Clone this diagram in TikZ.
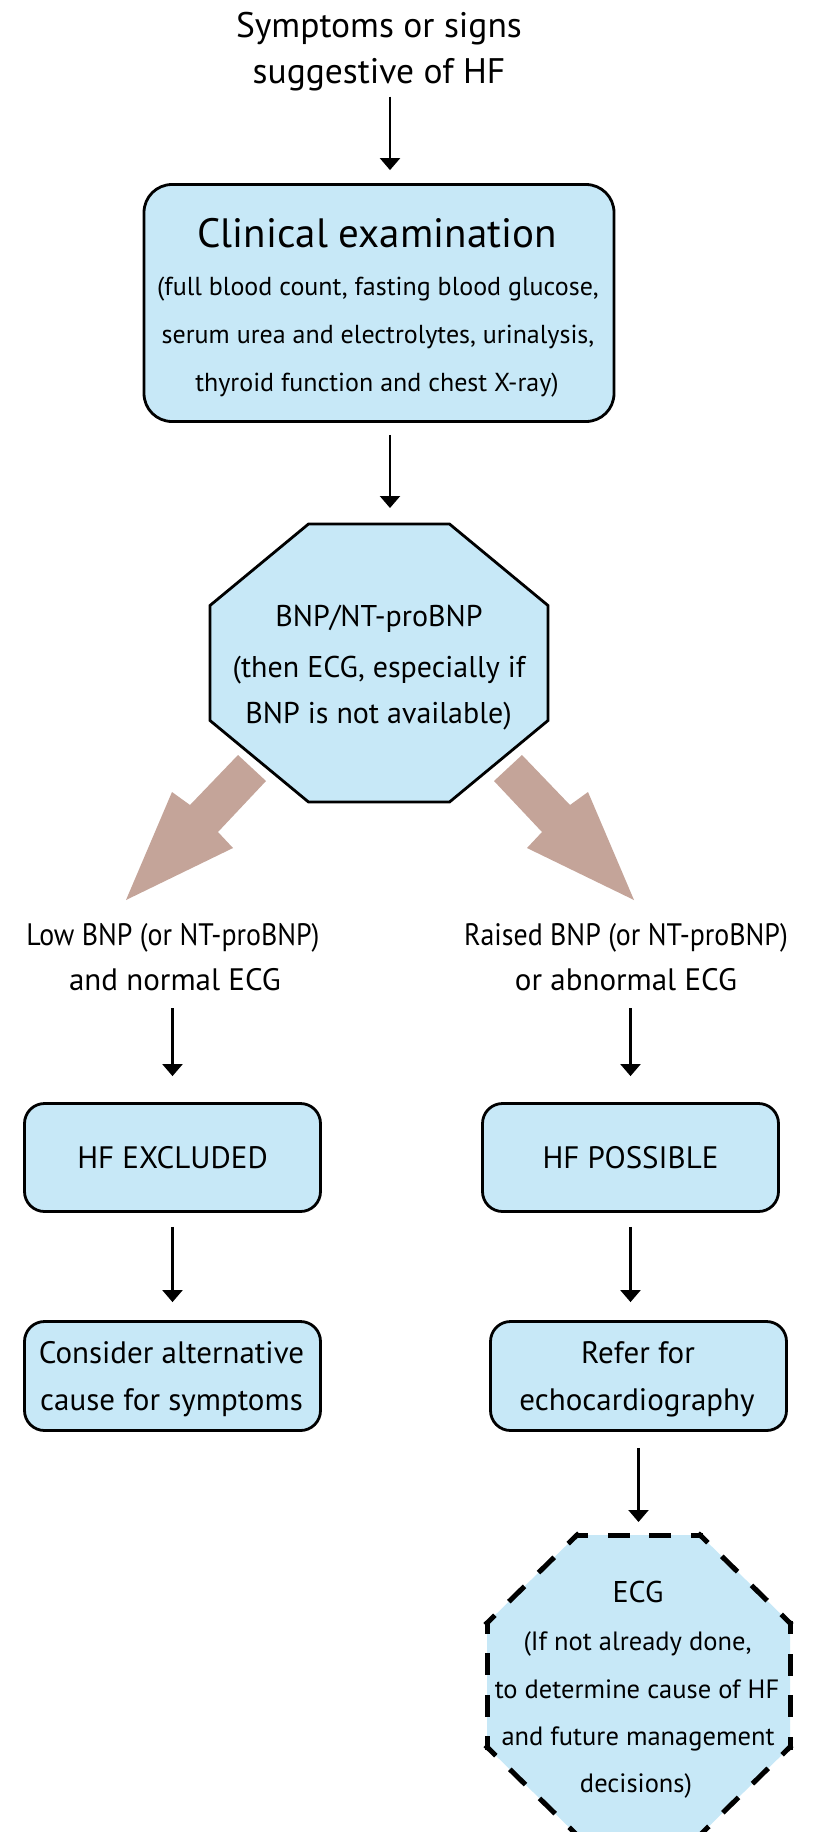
\documentclass[tikz,border=0pt]{standalone}
\usepackage{fontspec}
\setmainfont{PT Sans}
\usetikzlibrary{arrows.meta,calc}
\definecolor{boxblue}{RGB}{199,232,247}
\definecolor{brownarrow}{RGB}{196,164,153}
\newcommand\fsz[1]{\fontsize{#1}{#1}\selectfont}
\tikzset{
  txt/.style={inner sep=0pt, outer sep=0pt, anchor=base},
  rbox/.style={draw=black, line width=2.8pt, fill=boxblue, rounded corners=20pt, inner sep=0pt},
  arr/.style={line width=2.2pt, -{Triangle[width=20pt,length=12pt]}},
  octline/.style={draw=black, line width=2.8pt, fill=boxblue, line join=miter},
  dashside/.style={draw=black, line width=5pt, dash pattern=on 17pt off 24.5pt, dash phase=8.5pt, line cap=rect},
  bigarrow/.style={fill=brownarrow, draw=none},
  frame/.style={inner sep=0pt, outer sep=0pt},
  branchA/.style={txt, font=\fsz{31}\addfontfeature{FakeStretch=0.9}},
  branchB/.style={txt, font=\fsz{31}}
}
\begin{document}
\begin{tikzpicture}[x=1pt,y=-1pt]
\useasboundingbox (0,0) rectangle (812,1832);
\clip (0,0) rectangle (812,1832);
\fill[white] (0,0) rectangle (812,1832);

% title
\node[txt,font=\fsz{35.5}] (t1) at (379,37) {Symptoms or signs};
\node[txt,font=\fsz{35.5}] (t2) at (379,83) {suggestive of HF};

% clinical examination box
\node[rbox, rounded corners=28pt, minimum width=470pt, minimum height=237pt] (box1) at (379,303) {};
\node[txt,font=\fsz{41}] (c1) at (377,247) {Clinical examination};
\node[txt,font=\fsz{26}] (c2) at (378,295) {(full blood count, fasting blood glucose,};
\node[txt,font=\fsz{26}] (c3) at (378,343) {serum urea and electrolytes, urinalysis,};
\node[txt,font=\fsz{26}] (c4) at (377,391) {thyroid function and chest X-ray)};

\draw[arr, shorten <=6pt, shorten >=13pt] ([xshift=11pt]t2.south) -- ([xshift=11pt]box1.north);

% BNP octagon
\node[frame, minimum width=338pt, minimum height=278pt] (oct1) at (379,663) {};
\path[octline] ($(oct1)+(-70.5,-139)$) -- ($(oct1)+(70.5,-139)$) -- ($(oct1)+(169,-57.5)$) -- ($(oct1)+(169,57.5)$) -- ($(oct1)+(70.5,139)$) -- ($(oct1)+(-70.5,139)$) -- ($(oct1)+(-169,57.5)$) -- ($(oct1)+(-169,-57.5)$) -- cycle;
\node[txt,font=\fsz{30}] (o1) at (379,626) {BNP/NT-proBNP};
\node[txt,font=\fsz{30}] (o2) at (379,677) {(then ECG, especially if};
\node[txt,font=\fsz{30}] (o3) at (378.5,723) {BNP is not available)};

\draw[arr, shorten <=12pt, shorten >=16pt] ([xshift=11pt]box1.south) -- ([xshift=11pt]oct1.north);

% brown branch arrows
\path[bigarrow] (238,755) -- (266,781) -- (218,832) -- (233,848) -- (126,900) -- (172,792) -- (190,805) -- cycle;
\path[bigarrow] (522,755) -- (494,781) -- (542,832) -- (527,848) -- (634,900) -- (588,792) -- (570,805) -- cycle;

% branch labels
\node[branchA] (l1) at (173,945) {Low BNP (or NT-proBNP)};
\node[branchB] (l2) at (175,990) {and normal ECG};
\node[branchA] (r1) at (626,945) {Raised BNP (or NT-proBNP)};
\node[branchB] (r2) at (626,990) {or abnormal ECG};

% outcome boxes
\node[rbox, font=\fsz{31}, minimum width=296pt, minimum height=108pt] (hfx) at (172.5,1157.5) {HF EXCLUDED};
\node[rbox, font=\fsz{31}, minimum width=296pt, minimum height=108pt] (hfp) at (630.5,1157.5) {HF POSSIBLE};

\draw[arr, shorten <=18pt, shorten >=26pt] (hfx.north |- l2.south) -- (hfx.north);
\draw[arr, shorten <=18pt, shorten >=26pt] (hfp.north |- r2.south) -- (hfp.north);

\node[rbox, minimum width=296pt, minimum height=109pt] (cons) at (172.5,1376) {};
\node[txt,font=\fsz{31}] (cons1) at (171.5,1363) {Consider alternative};
\node[txt,font=\fsz{31}] (cons2) at (171.5,1410) {cause for symptoms};

\node[rbox, minimum width=296pt, minimum height=109pt] (refer) at (638.5,1376) {};
\node[txt,font=\fsz{31}] (ref1) at (638,1363) {Refer for};
\node[txt,font=\fsz{31}] (ref2) at (637,1410) {echocardiography};

\draw[arr, shorten <=14pt, shorten >=18pt] (hfx.south) -- (cons.north);
\draw[arr, shorten <=14pt, shorten >=18pt] (hfp.south) -- (hfp.south |- refer.north);

% ECG dashed octagon
\node[frame, minimum width=303pt, minimum height=300pt] (oct2) at (638.5,1685) {};
\coordinate (e1) at ($(oct2)+(-61.5,-150)$);
\coordinate (e2) at ($(oct2)+(61.5,-150)$);
\coordinate (e3) at ($(oct2)+(151.5,-62)$);
\coordinate (e4) at ($(oct2)+(151.5,62)$);
\coordinate (e5) at ($(oct2)+(61.5,150)$);
\coordinate (e6) at ($(oct2)+(-61.5,150)$);
\coordinate (e7) at ($(oct2)+(-151.5,62)$);
\coordinate (e8) at ($(oct2)+(-151.5,-62)$);
\fill[boxblue] (e1) -- (e2) -- (e3) -- (e4) -- (e5) -- (e6) -- (e7) -- (e8) -- cycle;
\draw[dashside] (e1) -- (e2);
\draw[dashside] (e2) -- (e3);
\draw[dashside] (e3) -- (e4);
\draw[dashside] (e4) -- (e5);
\draw[dashside] (e5) -- (e6);
\draw[dashside] (e6) -- (e7);
\draw[dashside] (e7) -- (e8);
\draw[dashside] (e8) -- (e1);

\draw[arr, shorten <=16pt, shorten >=13pt] (refer.south) -- (oct2.north);

\node[txt,font=\fsz{30}] (g1) at (638,1602) {ECG};
\node[txt,font=\fsz{26.5}] (g2) at (637.5,1650) {(If not already done,};
\node[txt,font=\fsz{26.5}] (g3) at (637,1698) {to determine cause of HF};
\node[txt,font=\fsz{26.5}] (g4) at (638,1745) {and future management};
\node[txt,font=\fsz{26.5}] (g5) at (636,1792) {decisions)};
\end{tikzpicture}
\end{document}
